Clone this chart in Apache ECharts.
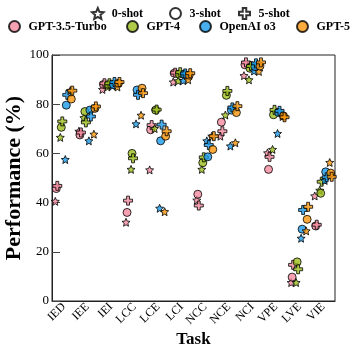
<!DOCTYPE html>
<html><head><meta charset="utf-8">
<script src="https://cdn.jsdelivr.net/npm/echarts@6/dist/echarts.min.js"></script>
<style>html,body{margin:0;padding:0;background:#fff}#c{width:352px;height:351px}</style>
</head><body><div id="c"></div>
<script>
const categories = ['IED','IEE','IEI','LCC','LCE','LCI','NCC','NCE','NCI','VPE','LVE','VIE'];
const yTicks = [0,20,40,60,80,100];
// GPT-3.5-Turbo
const gpt35_0shot = [40.5,69,86,32,53.3,89,41,67,91.6,60.2,7.5,42.7];
const gpt35_3shot = [45.7,67.5,88,36,69.6,92.6,43.4,72.7,96,53.5,9.7,30.5];
const gpt35_5shot = [46.8,68.5,88.5,40.8,71.5,92.8,38.8,69,97,58.6,14.7,31];
// GPT-4
const gpt4_0shot = [66.5,74.5,87,53.5,70.1,89.5,53.5,75.6,89.9,61.6,7.5,45];
const gpt4_3shot = [70.6,77,88,60,77.6,92.2,56.2,83.6,94.6,75.7,15.9,43.8];
const gpt4_5shot = [73,72.6,88.5,58,77.8,93,58.4,85.4,95.5,77.7,12.9,48.5];
// OpenAI o3
const o3_0shot = [57.5,65.1,87.5,72,37.7,89.6,65.1,63,93.5,68.1,25.5,49];
const o3_3shot = [79.6,77.6,88,85.8,65.1,92.2,58.6,77.6,95.3,76.6,29.2,52.5];
const o3_5shot = [83.8,75,89,83.8,71.7,92.5,63.4,78.7,96.6,77.3,37,50.3];
// GPT-5
const gpt5_0shot = [85.5,67.8,87,75.5,36.3,89.9,67,64.3,93.3,75,28.5,56.3];
const gpt5_3shot = [82.1,78.3,88.5,86.5,67,91.8,61.6,76.6,95.5,75.2,33.2,52];
const gpt5_5shot = [85.5,79.1,89,84.5,69,92.6,67,79.2,97,74.7,38.3,50.5];

const modelNames = ['GPT-3.5-Turbo','GPT-4','OpenAI o3','GPT-5'];
const shotNames = ['0-shot','3-shot','5-shot'];
const modelData = [
  [gpt35_0shot,gpt35_3shot,gpt35_5shot],
  [gpt4_0shot,gpt4_3shot,gpt4_5shot],
  [o3_0shot,o3_3shot,o3_5shot],
  [gpt5_0shot,gpt5_3shot,gpt5_5shot]
];
const modelColors = ['#F28A9E','#9BBE1C','#1A9AE8','#F7960E'];
const modelOffsetPx = [-7.5,-2.5,2.5,7.5];
const shotOffsetPx = [-1,0,1];
const starPath = 'path://M50 0 L63.52 31.39 L97.55 34.55 L71.87 57.11 L79.39 90.45 L50 73 L20.61 90.45 L28.13 57.11 L2.45 34.55 L36.48 31.39 Z';
const plusPath = 'path://M34 0 H66 V34 H100 V66 H66 V100 H34 V66 H0 V34 H34 Z';
const shotSymbols = [starPath,'circle',plusPath];
const shotSizes = [8,8,9];
const FONT = 'Liberation Serif';

const series = [];
shotNames.forEach((n,s)=>series.push({type:'scatter',name:n,data:[],symbol:shotSymbols[s],
  itemStyle:{color:'#fff',borderColor:'#000',borderWidth:1}}));
modelNames.forEach((n,m)=>series.push({type:'scatter',name:n,data:[],symbol:'circle',
  itemStyle:{color:modelColors[m],borderColor:'#000',borderWidth:1}}));
modelNames.forEach((n,m)=>{
  shotNames.forEach((sn,s)=>{
    series.push({
      type:'scatter', name:n+' '+sn, data:modelData[m][s],
      symbol:shotSymbols[s], symbolSize:shotSizes[s],
      symbolOffset:[modelOffsetPx[m]+shotOffsetPx[s],0],
      itemStyle:{color:modelColors[m],borderColor:'#000',borderWidth:1},
      z: 3
    });
  });
});

const legendText = {fontFamily:FONT,fontWeight:'bold',fontSize:12,color:'#000'};
const legendPos = [
  {name:'0-shot',left:91,top:7},{name:'3-shot',left:169,top:7},{name:'5-shot',left:238,top:7},
  {name:'GPT-3.5-Turbo',left:8,top:20},{name:'GPT-4',left:126,top:20},
  {name:'OpenAI o3',left:199,top:20},{name:'GPT-5',left:296,top:20}
];
const legends = legendPos.map(p=>({
  data:[p.name], left:p.left, top:p.top, padding:0, itemWidth:18, itemHeight:11,
  itemGap:0, textStyle:legendText, selectedMode:false
}));

const chart = echarts.init(document.getElementById('c'),null,{renderer:'canvas'});
chart.setOption({
  animation:false,
  backgroundColor:'#fff',
  legend: legends,
  grid:{left:52,right:17,top:55,bottom:50,show:true,borderColor:'#222',borderWidth:1,
    backgroundColor:'transparent',containLabel:false,outerBoundsMode:'none'},
  xAxis:{
    type:'category', data:categories, boundaryGap:true,
    name:'Task', nameLocation:'middle', nameGap:30, nameMoveOverlap:false,
    nameTextStyle:{fontFamily:FONT,fontWeight:'bold',fontSize:17,color:'#000'},
    axisLine:{lineStyle:{color:'#222',width:1}},
    axisTick:{inside:true,alignWithLabel:true,length:8,lineStyle:{color:'#444'}},
    axisLabel:{rotate:45,margin:4,fontFamily:FONT,fontSize:12,color:'#000',interval:0},
    splitLine:{show:false}
  },
  yAxis:{
    type:'value', min:0, max:100, interval:20,
    name:'Performance (%)', nameLocation:'middle', nameGap:27, nameMoveOverlap:false,
    nameTextStyle:{fontFamily:FONT,fontWeight:'bold',fontSize:22,color:'#000'},
    axisLine:{show:true,lineStyle:{color:'#222',width:1}},
    axisTick:{show:true,inside:true,length:8,lineStyle:{color:'#444'}},
    axisLabel:{margin:3,fontFamily:FONT,fontSize:13,color:'#000',
      formatter:v=>yTicks.includes(v)?String(v):''},
    splitLine:{show:false}
  },
  series: series
});
</script></body></html>
